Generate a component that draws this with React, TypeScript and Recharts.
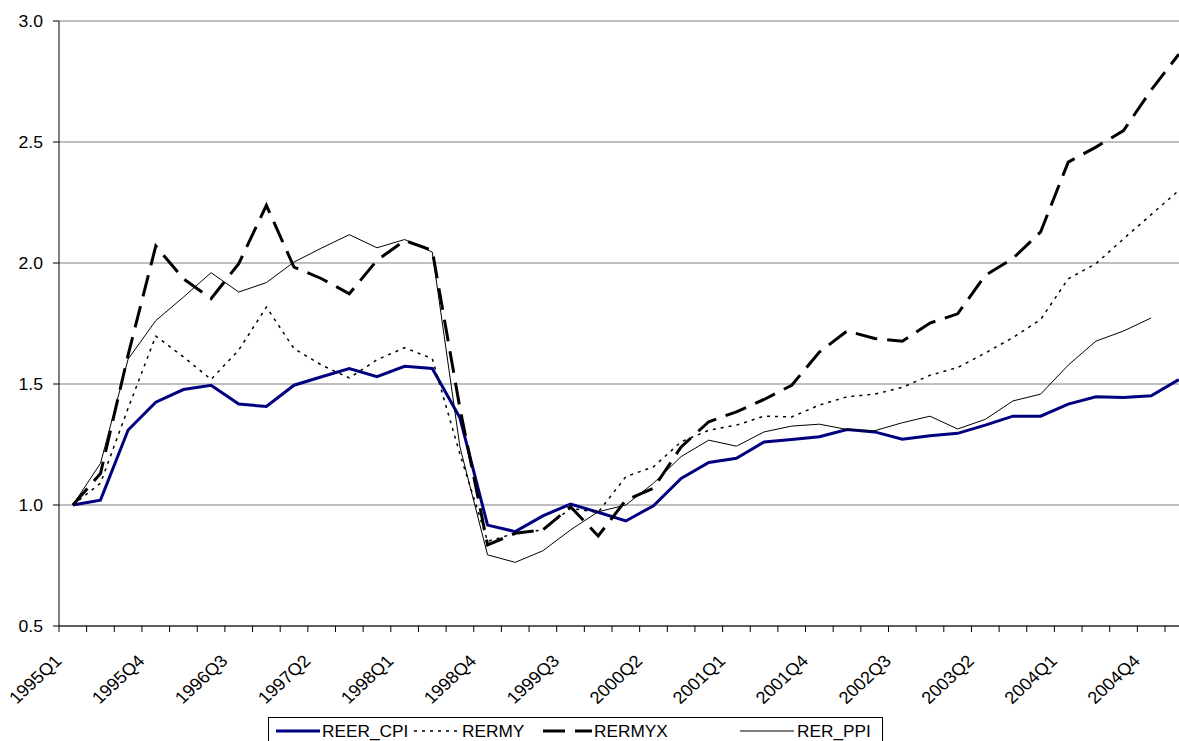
import React from 'react';
import { LineChart, Line, XAxis, YAxis, CartesianGrid } from 'recharts';

const quarters = [
  '1995Q1', '1995Q2', '1995Q3', '1995Q4', '1996Q1', '1996Q2', '1996Q3', '1996Q4',
  '1997Q1', '1997Q2', '1997Q3', '1997Q4', '1998Q1', '1998Q2', '1998Q3', '1998Q4',
  '1999Q1', '1999Q2', '1999Q3', '1999Q4', '2000Q1', '2000Q2', '2000Q3', '2000Q4',
  '2001Q1', '2001Q2', '2001Q3', '2001Q4', '2002Q1', '2002Q2', '2002Q3', '2002Q4',
  '2003Q1', '2003Q2', '2003Q3', '2003Q4', '2004Q1', '2004Q2', '2004Q3', '2004Q4',
  '2005Q1',
];

const reerCpi = [
  1.0, 1.02, 1.31, 1.425, 1.477, 1.495, 1.417, 1.407, 1.495, 1.53, 1.564, 1.53, 1.573, 1.564,
  1.36, 0.917, 0.89, 0.955, 1.004, 0.97, 0.934, 0.997, 1.11, 1.176, 1.193, 1.26, 1.271, 1.282,
  1.312, 1.302, 1.272, 1.286, 1.296, 1.33, 1.367, 1.367, 1.417, 1.447, 1.444, 1.451, 1.518,
];

const rermy = [
  1.0, 1.09, 1.4, 1.698, 1.612, 1.519, 1.64, 1.818, 1.646, 1.578, 1.525, 1.6, 1.65, 1.605,
  1.21, 0.85, 0.883, 0.897, 0.986, 0.97, 1.117, 1.158, 1.261, 1.309, 1.33, 1.367, 1.364, 1.413,
  1.447, 1.458, 1.486, 1.536, 1.568, 1.628, 1.692, 1.766, 1.935, 1.997, 2.1, 2.2, 2.3,
];

const rermyx = [
  1.0, 1.13, 1.62, 2.07, 1.935, 1.853, 1.997, 2.238, 1.983, 1.935, 1.873, 2.011, 2.093, 2.052,
  1.4, 0.835, 0.883, 0.897, 0.993, 0.872, 1.02, 1.069, 1.24, 1.344, 1.385, 1.436, 1.495, 1.632,
  1.719, 1.688, 1.677, 1.752, 1.79, 1.949, 2.019, 2.128, 2.417, 2.479, 2.547, 2.715, 2.863,
];

const rerPpi = [
  1.0, 1.172, 1.603, 1.762, 1.859, 1.96, 1.88, 1.919, 2.004, 2.062, 2.117, 2.063, 2.097, 2.045,
  1.24, 0.794, 0.763, 0.811, 0.897, 0.972, 1.0, 1.09, 1.2, 1.268, 1.243, 1.302, 1.326, 1.334,
  1.312, 1.307, 1.34, 1.367, 1.314, 1.354, 1.43, 1.458, 1.578, 1.677, 1.719, 1.773, null,
];

const yTicks = [0.5, 1.0, 1.5, 2.0, 2.5, 3.0];

// every category gets a tick mark on its boundary, every third one a label at its centre
const xTicks: number[] = [];
for (let i = 0; i <= quarters.length; i++) xTicks.push(i);
for (let i = 0; i < quarters.length; i += 3) xTicks.push(i + 0.5);
xTicks.sort((a, b) => a - b);

const data = quarters.map((q, i) => ({
  x: i + 0.5,
  quarter: q,
  REER_CPI: reerCpi[i],
  RERMY: rermy[i],
  RERMYX: rermyx[i],
  RER_PPI: rerPpi[i],
}));

const FONT = 'Liberation Sans, Arial, sans-serif';

const XTick = (props: any) => {
  const { x, y, payload } = props;
  const v = payload.value;
  if (Number.isInteger(v)) {
    return <line x1={x} x2={x} y1={y} y2={y + 6} stroke="#000" />;
  }
  return (
    <text
      transform={`translate(${x - 10},${y + 36}) scale(1.08,1) rotate(-45)`}
      textAnchor="end"
      fontSize={17}
      fontFamily={FONT}
      fill="#000"
    >
      {quarters[Math.floor(v)]}
    </text>
  );
};

const YTick = (props: any) => {
  const { x, y, payload } = props;
  return (
    <g>
      <line x1={x - 6} x2={x} y1={y} y2={y} stroke="#000" />
      <text
        transform={`translate(${x - 16},${y}) scale(1.1,1)`}
        textAnchor="end"
        dy="0.36em"
        fontSize={16}
        fontFamily={FONT}
        fill="#000"
      >
        {payload.value.toFixed(1)}
      </text>
    </g>
  );
};

const legendItems = [
  { name: 'REER_CPI', x1: 276, x2: 320, tx: 322, stroke: '#000080', width: 3, dash: undefined },
  { name: 'RERMY', x1: 414, x2: 460, tx: 462, stroke: '#000', width: 1.5, dash: '3 5' },
  { name: 'RERMYX', x1: 543, x2: 592, tx: 594, stroke: '#000', width: 3, dash: '22 10' },
  { name: 'RER_PPI', x1: 740, x2: 794, tx: 797, stroke: '#000', width: 1, dash: undefined },
];

const Legend = () => (
  <svg width={1179} height={741} style={{ position: 'absolute', left: 0, top: 0, pointerEvents: 'none' }}>
    <rect x={268.5} y={717.5} width={614} height={40} fill="#fff" stroke="#000" />
    {legendItems.map((it) => (
      <g key={it.name}>
        <line x1={it.x1} x2={it.x2} y1={731} y2={731} stroke={it.stroke} strokeWidth={it.width} strokeDasharray={it.dash} />
        <text
          transform={`translate(${it.tx},737) scale(1.08,1)`}
          fontSize={16}
          fontFamily={FONT}
          fill="#000"
        >
          {it.name}
        </text>
      </g>
    ))}
  </svg>
);

export default function App() {
  return (
    <div style={{ position: 'absolute', left: 0, top: 0, width: 1179, height: 741, overflow: 'hidden', background: '#fff' }}>
      <LineChart width={1200} height={741} data={data} margin={{ top: 21, right: 7.35, bottom: 0, left: 0 }}>
        <CartesianGrid vertical={false} stroke="#808080" />
        <XAxis
          type="number"
          dataKey="x"
          domain={[0, quarters.length]}
          ticks={xTicks}
          interval={0}
          height={115}
          tickSize={0}
          tickMargin={0}
          tickLine={false}
          axisLine={{ stroke: '#000' }}
          tick={<XTick />}
        />
        <YAxis
          type="number"
          domain={[0.5, 3]}
          ticks={yTicks}
          interval={0}
          width={59}
          tickSize={0}
          tickMargin={0}
          tickLine={false}
          axisLine={{ stroke: '#000' }}
          tick={<YTick />}
        />
        <Line dataKey="REER_CPI" type="linear" stroke="#000080" strokeWidth={3} dot={false} isAnimationActive={false} />
        <Line dataKey="RERMY" type="linear" stroke="#000" strokeWidth={1.5} strokeDasharray="3 5" dot={false} isAnimationActive={false} />
        <Line dataKey="RERMYX" type="linear" stroke="#000" strokeWidth={3} strokeDasharray="22 10" dot={false} isAnimationActive={false} />
        <Line dataKey="RER_PPI" type="linear" stroke="#000" strokeWidth={1} dot={false} isAnimationActive={false} />
      </LineChart>
      <Legend />
    </div>
  );
}
